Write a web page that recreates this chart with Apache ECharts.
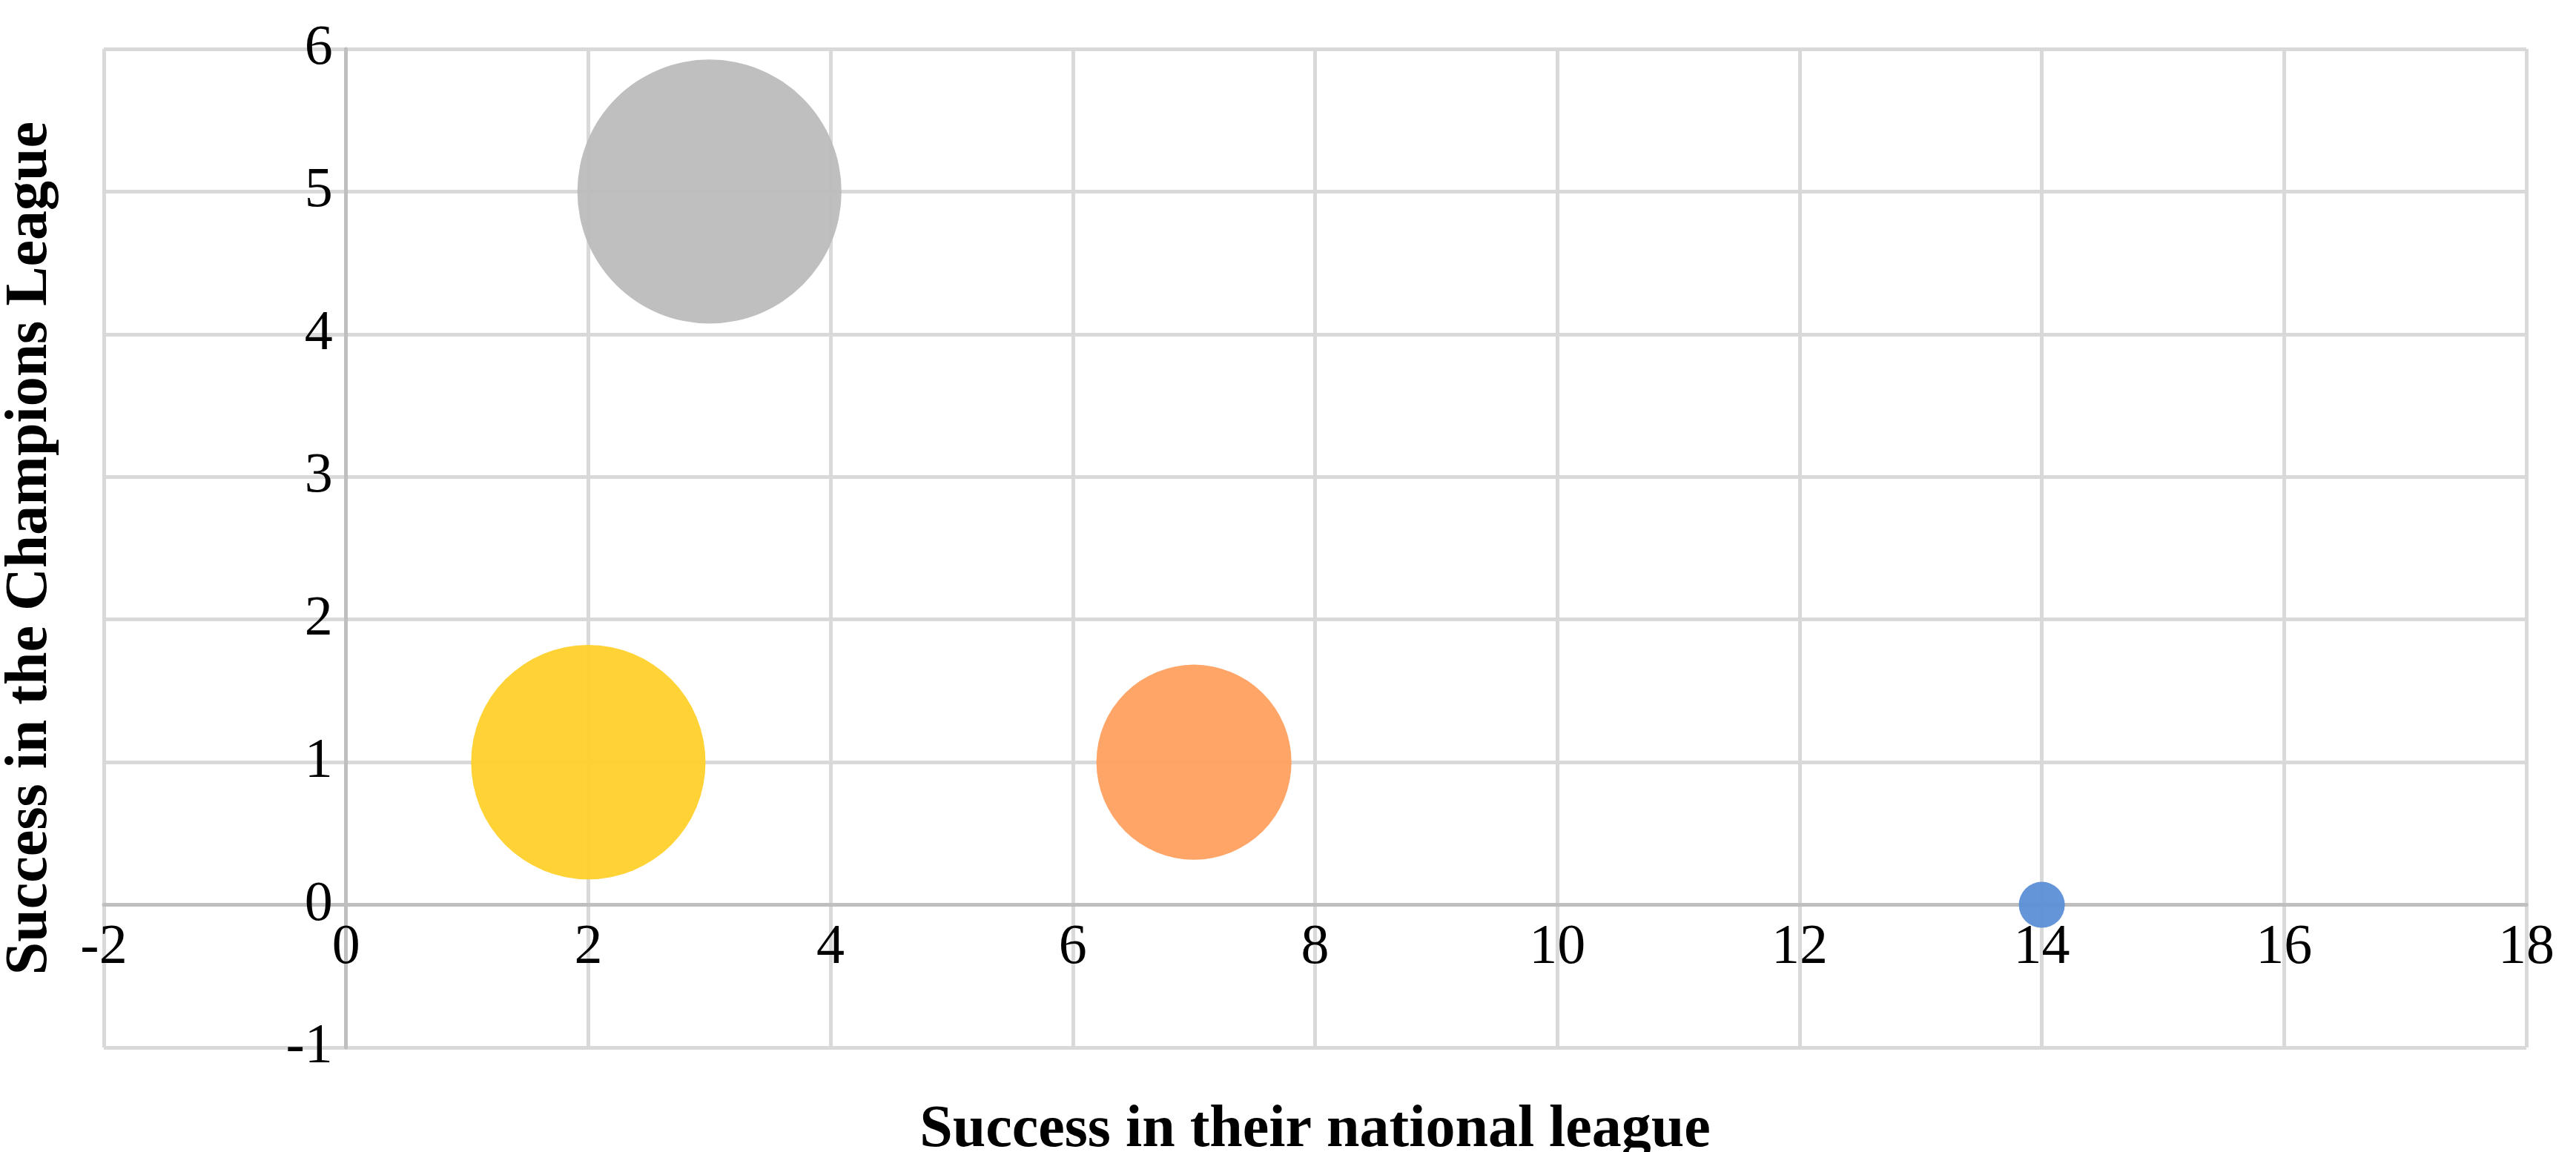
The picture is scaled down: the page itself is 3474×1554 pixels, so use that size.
<!DOCTYPE html>
<html>
<head>
<meta charset="utf-8">
<script src="https://cdn.jsdelivr.net/npm/echarts@6/dist/echarts.min.js"></script>
<style>html,body{margin:0;padding:0;background:#fff}#chart{width:3474px;height:1554px}</style>
</head>
<body>
<div id="chart"></div>
<script>
// data
var nationalSuccess = [3, 2, 7, 14];
var championsSuccess = [5, 1, 1, 0];
var bubbleValue = [33, 26, 18, 1];
var bubbleColors = ['#bcbcbc', '#ffd02a', '#ffa060', '#5b8fd6'];

var points = [];
for (var i = 0; i < nationalSuccess.length; i++) {
	points.push({
		value: [nationalSuccess[i], championsSuccess[i], bubbleValue[i]],
		itemStyle: { color: bubbleColors[i], opacity: 0.95 }
	});
}

var myChart = echarts.init(document.getElementById('chart'));
var font = 'Liberation Serif';
// plot box, axes cross at 0 so shift them inward
var gl = 140, gr = 67, gt = 66, gb = 141;
var plotW = 3474 - gl - gr, plotH = 1554 - gt - gb;
option = {
	animation: false,
	grid: { left: gl, right: gr, top: gt, bottom: gb, containLabel: false, outerBoundsMode: 'none' },
	xAxis: {
		type: 'value', min: -2, max: 18, interval: 2,
		offset: -plotH / 7,
		name: 'Success in their national league',
		nameLocation: 'middle', nameGap: 265,
		nameTextStyle: { fontFamily: font, fontWeight: 'bold', fontSize: 80, color: '#000' },
		axisLine: { onZero: false, lineStyle: { color: '#bfbfbf', width: 5 } },
		axisTick: { show: false },
		axisLabel: { fontFamily: font, fontSize: 76, color: '#000', margin: 20 },
		splitLine: { lineStyle: { color: '#d9d9d9', width: 5 } }
	},
	yAxis: {
		type: 'value', min: -1, max: 6, interval: 1,
		offset: -plotW / 10,
		name: 'Success in the Champions League',
		nameLocation: 'middle', nameGap: 385,
		nameTextStyle: { fontFamily: font, fontWeight: 'bold', fontSize: 80, color: '#000' },
		axisLine: { onZero: false, lineStyle: { color: '#bfbfbf', width: 5 } },
		axisTick: { show: false },
		axisLabel: { fontFamily: font, fontSize: 76, color: '#000', margin: 18 },
		splitLine: { lineStyle: { color: '#d9d9d9', width: 5 } }
	},
	series: [{
		type: 'scatter',
		data: points,
		symbolSize: function (v) { return 62 * Math.sqrt(v[2]); }
	}]
};
myChart.setOption(option);
</script>
</body>
</html>
